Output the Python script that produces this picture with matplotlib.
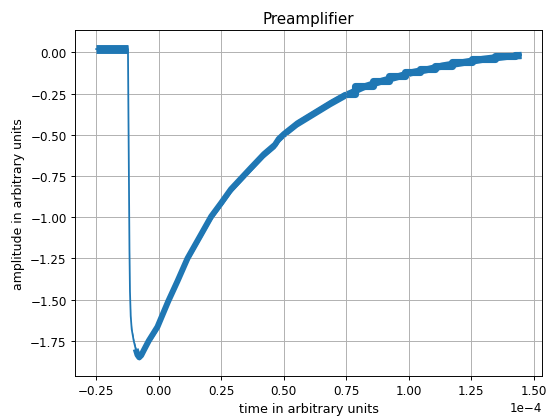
import numpy as np
import matplotlib
matplotlib.use("Agg")
import matplotlib.pyplot as plt

# pulse samples, time in units of 1e-4
time = [-0.250, -0.123, -0.121, -0.119, -0.117, -0.115, -0.112, -0.108,
        -0.100, -0.092, -0.085, -0.078, -0.070, -0.059, -0.040, -0.005,
        0.038, 0.075, 0.115, 0.168, 0.210, 0.249, 0.289, 0.329, 0.369,
        0.421, 0.465, 0.480, 0.501, 0.555, 0.622, 0.689, 0.749, 0.822,
        0.889, 0.956, 1.010, 1.077, 1.131, 1.211, 1.291, 1.398, 1.449]
amplitude = [0.020, 0.020, -0.40, -0.80, -1.20, -1.45, -1.60, -1.68,
             -1.75, -1.80, -1.835, -1.850, -1.838, -1.805, -1.750, -1.665,
             -1.510, -1.388, -1.250, -1.108, -0.995, -0.915, -0.830, -0.765, -0.700,
             -0.617, -0.560, -0.525, -0.495, -0.430, -0.368, -0.306, -0.255, -0.205,
             -0.172, -0.144, -0.120, -0.100, -0.080, -0.060, -0.040, -0.020, -0.016]
# digitiser noise spread around the trace
spread = [0.020, 0.020, 0.005, 0.005, 0.005, 0.006, 0.008, 0.010,
          0.012, 0.014, 0.016, 0.016, 0.016, 0.018, 0.020, 0.022,
          0.022, 0.022, 0.022, 0.022, 0.022, 0.022, 0.022, 0.022, 0.022,
          0.022, 0.022, 0.022, 0.022, 0.022, 0.022, 0.022, 0.022, 0.022,
          0.022, 0.022, 0.022, 0.022, 0.022, 0.022, 0.022, 0.022, 0.022]

t = np.array(time) * 1e-4
a = np.array(amplitude)
s = np.array(spread)

fig = plt.figure(figsize=(6.4, 4.9), dpi=85.5)
plt.subplots_adjust(left=0.137, right=0.991, bottom=0.101, top=0.926)

# noisy baseline and slow recovery look thick, the fast edge is thin
base = t <= -0.123e-4
rise = (t >= -0.092e-4) & (t <= 0.749e-4)
end = t >= 0.749e-4
plt.fill_between(t, a - s, a + s, color="C0", linewidth=0)
plt.plot(t, a, color="C0", linewidth=1.5)
plt.plot(t[base], a[base], color="C0", linewidth=7.5, solid_capstyle="butt")
plt.plot(t[rise], a[rise], color="C0", linewidth=5, solid_capstyle="butt")
# adc quantisation shows as small steps in the tail
plt.plot(t[end], a[end], color="C0", linewidth=6, drawstyle="steps-mid",
         solid_capstyle="butt")

plt.title("Preamplifier", fontsize=12.7)
plt.xlabel("time in arbitrary units", fontsize=10.7)
plt.ylabel("amplitude in arbitrary units", fontsize=10.5)
plt.ticklabel_format(axis="x", style="sci", scilimits=(0, 0))
plt.grid(True)

plt.savefig("out.png", dpi=85.5)
